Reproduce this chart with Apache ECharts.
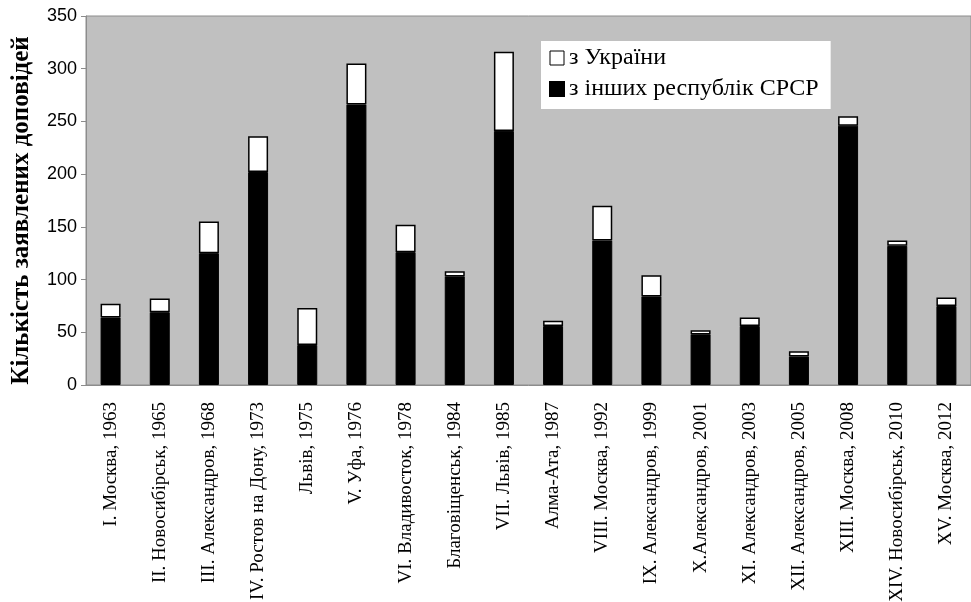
<!DOCTYPE html>
<html>
<head>
<meta charset="utf-8">
<script src="https://cdn.jsdelivr.net/npm/echarts@6/dist/echarts.min.js"></script>
<style>
  html, body { margin: 0; padding: 0; background: #fff; }
  #chart { width: 971px; height: 602px; }
</style>
</head>
<body>
<div id="chart"></div>
<script>
const categories = [
  'I. Москва, 1963', 'II. Новосибірськ, 1965', 'III. Александров, 1968',
  'IV. Ростов на Дону, 1973', 'Львів, 1975', 'V. Уфа, 1976',
  'VI. Владивосток, 1978', 'Благовіщенськ, 1984', 'VII. Львів, 1985',
  'Алма-Ата, 1987', 'VIII. Москва, 1992', 'IX. Александров, 1999',
  'X.Александров, 2001', 'XI. Александров, 2003', 'XII. Александров, 2005',
  'XIII. Москва, 2008', 'XIV. Новосибірськ, 2010', 'XV. Москва, 2012'
];
// з інших республік СРСР (нижня, чорна частина)
const otherRepublics = [64, 69, 125, 202, 38, 266, 126, 103, 241, 56, 137, 84, 48, 56, 27, 246, 132, 75];
// з України (верхня, біла частина)
const fromUkraine = [13, 13, 30, 34, 35, 39, 26, 5, 75, 5, 33, 20, 4, 8, 5, 9, 5, 8];

const yTicks = { min: 0, max: 350, interval: 50 };

const myChart = echarts.init(document.getElementById('chart'));
myChart.setOption({
  animation: false,
  grid: {
    left: 86, right: 0, top: 16, bottom: 217,
    outerBoundsMode: 'none',
    show: true, backgroundColor: '#c0c0c0', borderColor: '#8c8c8c', borderWidth: 1
  },
  legend: {
    orient: 'vertical',
    left: 541, top: 41,
    backgroundColor: '#fff',
    padding: [5, 12, 8, 8],
    itemGap: 7,
    itemWidth: 14, itemHeight: 14,
    data: [
      { name: 'з України', icon: 'rect', itemStyle: { color: '#fff', borderColor: '#000', borderWidth: 1 } },
      { name: 'з інших республік СРСР', icon: 'rect' }
    ],
    textStyle: { fontFamily: 'Liberation Serif', fontSize: 24, color: '#000' }
  },
  xAxis: {
    type: 'category',
    data: categories,
    axisLine: { lineStyle: { color: '#8c8c8c', width: 1 } },
    axisTick: { alignWithLabel: false, length: 5, lineStyle: { color: '#8c8c8c' } },
    axisLabel: {
      rotate: 90, interval: 0, margin: 17,
      fontFamily: 'Liberation Serif', fontSize: 19, color: '#000'
    }
  },
  yAxis: {
    type: 'value',
    min: yTicks.min, max: yTicks.max, interval: yTicks.interval,
    name: 'Кількість заявлених доповідей',
    nameLocation: 'middle',
    nameGap: 52,
    nameTextStyle: {
      fontFamily: 'Liberation Serif', fontSize: 25, fontWeight: 'bold', color: '#000',
      padding: [0, 20, 0, 0]
    },
    axisLine: { show: true, lineStyle: { color: '#8c8c8c', width: 1 } },
    axisTick: { show: true, length: 5, lineStyle: { color: '#8c8c8c' } },
    splitLine: { show: false },
    axisLabel: { margin: 9, fontFamily: 'Liberation Sans', fontSize: 18, color: '#000' }
  },
  series: [
    {
      name: 'з інших республік СРСР',
      type: 'bar',
      stack: 'total',
      barWidth: 20,
      data: otherRepublics,
      itemStyle: { color: '#000', borderColor: '#000', borderWidth: 1 }
    },
    {
      name: 'з України',
      type: 'bar',
      stack: 'total',
      barWidth: 20,
      data: fromUkraine,
      itemStyle: { color: '#fff', borderColor: '#000', borderWidth: 1.5 }
    }
  ]
});

window.addEventListener('resize', function() {
  myChart.resize();
});
</script>
</body>
</html>
